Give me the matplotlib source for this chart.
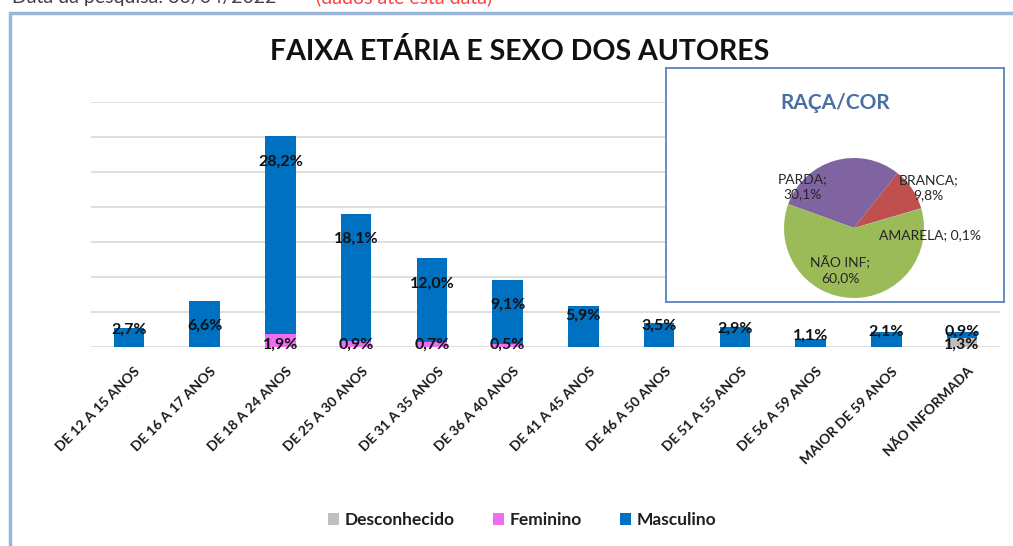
import numpy as np
import matplotlib
matplotlib.use("Agg")
import matplotlib.pyplot as plt
from matplotlib.patches import Rectangle

plt.rcParams['font.family'] = ['Lato', 'DejaVu Sans']

# dados
faixas = ["DE 12 A 15 ANOS", "DE 16 A 17 ANOS", "DE 18 A 24 ANOS", "DE 25 A 30 ANOS",
          "DE 31 A 35 ANOS", "DE 36 A 40 ANOS", "DE 41 A 45 ANOS", "DE 46 A 50 ANOS",
          "DE 51 A 55 ANOS", "DE 56 A 59 ANOS", "MAIOR DE 59 ANOS", "NÃO INFORMADA"]
desconhecido = [0, 0, 0, 0, 0, 0, 0, 0, 0, 0, 0, 1.3]
feminino = [0, 0, 1.9, 0.9, 0.7, 0.5, 0, 0, 0, 0, 0, 0]
masculino = [2.7, 6.6, 28.2, 18.1, 12.0, 9.1, 5.9, 3.5, 2.9, 1.1, 2.1, 0.9]

raca = ["PARDA", "BRANCA", "AMARELA", "NÃO INF"]
raca_pct = [30.1, 9.8, 0.1, 60.0]

c_desc = "#bfbfbf"
c_fem = "#f06cf0"
c_masc = "#0070c0"

W, H = 1013, 546
fig = plt.figure(figsize=(W / 100, H / 100), dpi=100)

def fx(px):
    return px / W

def fy(py):
    return 1 - py / H

# moldura externa
fig.patches.append(Rectangle((fx(10), fy(560)), fx(1020) - fx(10), fy(13) - fy(560),
                             transform=fig.transFigure, fill=False,
                             edgecolor="#9ab5da", lw=2.5))
fig.text(fx(12), fy(3), "Data da pesquisa: 30/04/2022", fontsize=14, color="#404040",
         va="baseline", ha="left")
fig.text(fx(316), fy(3), "(dados até esta data)", fontsize=14, color="#ff4040",
         va="baseline", ha="left")

# barras
ax = fig.add_axes([fx(91), fy(347), fx(1000) - fx(91), fy(102) - fy(347)])
x = np.arange(len(faixas))
desc = np.array(desconhecido)
fem = np.array(feminino)
masc = np.array(masculino)
ax.bar(x, desc, width=0.4, color=c_desc, label="Desconhecido", zorder=3)
ax.bar(x, fem, width=0.4, bottom=desc, color=c_fem, label="Feminino", zorder=3)
ax.bar(x, masc, width=0.4, bottom=desc + fem, color=c_masc, label="Masculino", zorder=3)
ax.set_xlim(-0.5, len(faixas) - 0.5)
ax.set_ylim(0, 35)
ax.set_yticks(np.arange(0, 36, 5))
ax.yaxis.grid(True, color="#d9d9d9", lw=1.2, zorder=0)
ax.tick_params(axis="y", left=False, labelleft=False)
ax.tick_params(axis="x", length=0, pad=13)
for s in ax.spines.values():
    s.set_visible(False)
ax.set_xticks(x + 0.07)
ax.set_xticklabels(faixas, rotation=45, ha="right", rotation_mode="anchor",
                   fontsize=10, fontweight="bold", color="#1a1a1a")

def fmt(v):
    return f"{v:.1f}%".replace(".", ",")

lbl = dict(ha="center", va="center", fontsize=11.5, fontweight="bold",
           color="#111111", zorder=5, clip_on=False)
for i in range(len(faixas)):
    tot = desc[i] + fem[i] + masc[i]
    y = tot - 3.6 if tot > 6 else tot * 0.6 + 0.9
    ax.text(x[i], y, fmt(masc[i]), **lbl)
    if fem[i] > 0:
        ax.text(x[i], 0.3, fmt(fem[i]), **lbl)
    if desc[i] > 0:
        ax.text(x[i], 0.3, fmt(desc[i]), **lbl)

fig.text(fx(520), fy(52), "FAIXA ETÁRIA E SEXO DOS AUTORES", ha="center", va="center",
         fontsize=20.5, fontweight="bold", color="#111111")

handles, labels = ax.get_legend_handles_labels()
fig.legend(handles, labels, loc="center", bbox_to_anchor=(fx(522), fy(520)), ncol=3,
           frameon=False, handlelength=0.65, handleheight=0.65, handletextpad=0.3,
           columnspacing=2.2, prop=dict(size=12.5, weight="bold"), labelcolor="#1f1f1f")

# quadro da pizza
box = fig.add_axes([fx(666), fy(302), fx(1004) - fx(666), fy(68) - fy(302)])
box.set_xticks([])
box.set_yticks([])
box.set_facecolor("white")
for s in box.spines.values():
    s.set_color("#5b82c0")
    s.set_linewidth(1.3)
box.text(0.5, 0.85, "RAÇA/COR", transform=box.transAxes, ha="center", va="center",
         fontsize=15, fontweight="bold", color="#4a6fa5")

pax = fig.add_axes([fx(784), fy(298), fx(924) - fx(784), fy(158) - fy(298)])
pax.pie(raca_pct, colors=["#8064a2", "#c0504d", "#4bacc6", "#9bbb59"],
        startangle=160, counterclock=False, radius=1,
        wedgeprops=dict(edgecolor="none"))
pax.set_xlim(-1, 1)
pax.set_ylim(-1, 1)
pax.set_aspect("equal")
pax.axis("off")
lpos = [(-0.73, 0.59), (1.06, 0.57), (1.09, -0.10), (-0.20, -0.60)]
for nome, v, (px_, py_) in zip(raca, raca_pct, lpos):
    t = f"{nome}; {fmt(v)}" if nome == "AMARELA" else f"{nome};\n{fmt(v)}"
    pax.text(px_, py_, t, ha="center", va="center", fontsize=10, color="#262626",
             linespacing=1.3, clip_on=False)

fig.savefig("out.png", dpi=100)
